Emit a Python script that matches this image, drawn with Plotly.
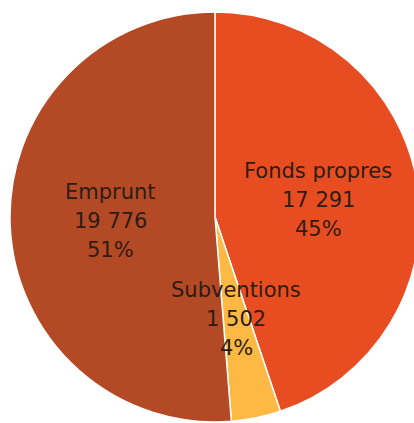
import math
import plotly.graph_objects as go

labels = ["Fonds propres", "Subventions", "Emprunt"]
values = [17291, 1502, 19776]
value_labels = ["17 291", "1 502", "19 776"]
colors = ["#E84D22", "#FDB944", "#B34A25"]

W, H = 420, 423
cx, cy, R = 215, 217, 205

fig = go.Figure(go.Pie(
    labels=labels,
    values=values,
    sort=False,
    direction="clockwise",
    rotation=0,
    textinfo="none",
    hoverinfo="label+value+percent",
    marker=dict(colors=colors, line=dict(color="white", width=1.5)),
    domain=dict(x=[(cx - R) / W, min(1.0, (cx + R) / W)],
                y=[(H - cy - R) / H, (H - cy + R) / H]),
    showlegend=False,
))

total = sum(values)
cum = 0
annotations = []
for lab, v, vl in zip(labels, values, value_labels):
    mid = (cum + v / 2) / total * 2 * math.pi
    cum += v
    r = 0.51 * R
    px = cx + r * math.sin(mid)
    py = cy - r * math.cos(mid)
    pct = f"{round(v / total * 100)}%"
    for line, off in zip([lab, vl, pct], [-29, 0, 29]):
        annotations.append(dict(
            x=px / W, y=1 - (py + off) / H, xref="paper", yref="paper",
            text=line, showarrow=False,
            font=dict(family="DejaVu Sans", size=21, color="#2e1c14"),
            xanchor="center", yanchor="middle",
        ))

fig.update_layout(
    width=W, height=H,
    margin=dict(l=0, r=0, t=0, b=0),
    paper_bgcolor="white",
    annotations=annotations,
)

fig.write_html(
    "out.html",
    config={"displayModeBar": False},
    post_script=(
        "document.body.style.margin='0';"
        "document.body.style.overflow='hidden';"
        "document.documentElement.style.overflow='hidden';"
    ),
)
